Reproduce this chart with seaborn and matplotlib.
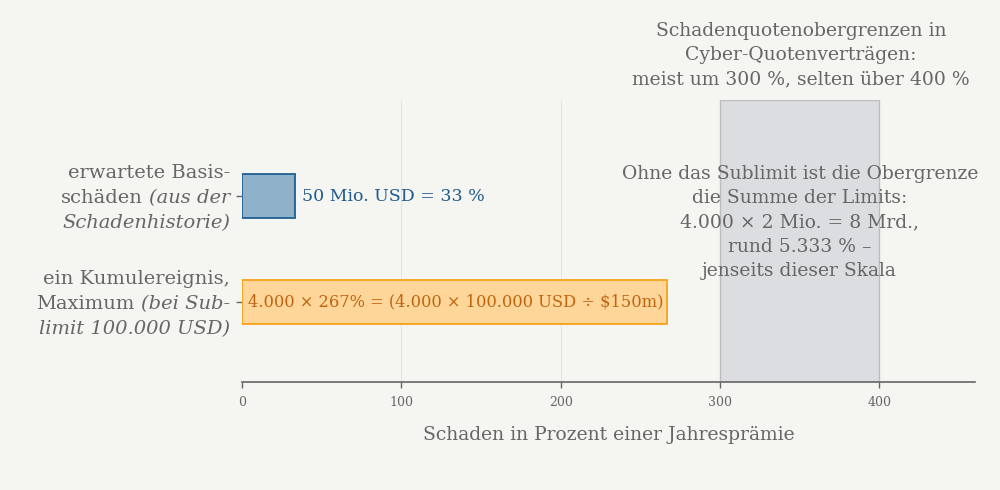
import matplotlib
matplotlib.use("Agg")
import matplotlib.pyplot as plt
import seaborn as sns
import pandas as pd

# ---- data ----
categories = ["Basisschäden", "Kumulereignis"]
values = [33, 267]
bar_labels = ["50 Mio. USD = 33 %", "4.000 × 267% = (4.000 × 100.000 USD ÷ $150m)"]
# left labels: list of lines, each line = (normal part, italic part)
label_lines = [
    [("erwartete Basis-", ""), ("schäden", "(aus der"), ("", "Schadenhistorie)")],
    [("ein Kumulereignis,", ""), ("Maximum", "(bei Sub-"), ("", "limit 100.000 USD)")],
]
band = (300, 400)
band_title = "Schadenquotenobergrenzen in\nCyber-Quotenverträgen:\nmeist um 300 %, selten über 400 %"
band_note = ("Ohne das Sublimit ist die Obergrenze\ndie Summe der Limits:\n"
             "4.000 × 2 Mio. = 8 Mrd.,\nrund 5.333 % –\njenseits dieser Skala")
xticks = [0, 100, 200, 300, 400]
xlabel = "Schaden in Prozent einer Jahresprämie"

fills = ["#8fb2c9", "#ffd699"]
edges = ["#1f5f94", "#f5a31a"]
label_colors = ["#1f5a8c", "#c0640f"]
grey = "#666666"
bg = "#f5f5f1"

sns.set_theme(style="white")
plt.rcParams["font.family"] = ["DejaVu Serif"]

df = pd.DataFrame({"cat": categories, "val": values})

fig = plt.figure(figsize=(10, 4.9), dpi=100, facecolor=bg)
ax = fig.add_axes([0.242, 1 - 382 / 490, 0.975 - 0.242, (382 - 100) / 490])
ax.set_facecolor(bg)

sns.barplot(data=df, x="val", y="cat", hue="cat", palette=fills, orient="h",
            width=0.415, saturation=1, legend=False, ax=ax, zorder=2)
bars = [p for c in ax.containers for p in c]
for p, ec in zip(bars, edges):
    p.set_edgecolor(ec)
    p.set_linewidth(1.3)

ax.axvspan(band[0], band[1], facecolor="#dcdde0", edgecolor="#bdbdbd", linewidth=1, zorder=0.5)
for g in [100, 200]:
    ax.axvline(g, color="#e4e4e2", linewidth=0.8, zorder=0.3)

ax.set_xlim(0, 460)
ax.set_ylim(1.755, -0.906)
ax.set_xticks(xticks)
ax.set_xticklabels([str(t) for t in xticks], fontsize=9, color=grey)
ax.set_yticks([0, 1])
ax.set_yticklabels(["", ""])
ax.tick_params(axis="x", length=4, width=1, color=grey, pad=6, bottom=True)
ax.tick_params(axis="y", length=4, width=1, color=grey, left=True)
for s in ["top", "right", "left"]:
    ax.spines[s].set_visible(False)
ax.spines["bottom"].set_color(grey)
ax.spines["bottom"].set_linewidth(1.2)
ax.set_xlabel(xlabel, fontsize=13.5, color=grey, labelpad=12)
ax.set_ylabel("")

# bar value labels
ax.annotate(bar_labels[0], xy=(values[0], 0), xytext=(5, 0), textcoords="offset points",
            va="center", ha="left", fontsize=12.5, color=label_colors[0])
ax.annotate(bar_labels[1], xy=(0, 1), xytext=(4, 0), textcoords="offset points",
            va="center", ha="left", fontsize=11.7, color=label_colors[1], zorder=3)

# left category labels with mixed italic
fs = 14
step = 0.236
xlab = (230 - 242) / 733
ytr = ax.get_yaxis_transform()
for ci, lines in enumerate(label_lines):
    n = len(lines)
    for li, (normal, ital) in enumerate(lines):
        y = ci + (li - (n - 1) / 2) * step
        if ital:
            t = ax.text(xlab, y, ital, transform=ytr, ha="right", va="center_baseline",
                        fontsize=fs, color=grey, style="italic")
            if normal:
                ax.annotate(normal, xy=(0, y), xycoords=(t, "data"),
                            xytext=(-4.5, 0), textcoords="offset points",
                            ha="right", va="center_baseline", fontsize=fs, color=grey,
                            annotation_clip=False)
        else:
            ax.text(xlab, y, normal, transform=ytr, ha="right", va="center_baseline",
                    fontsize=fs, color=grey)

# band annotations
fig.text(0.801, 1 - 55 / 490, band_title, ha="center", va="center", fontsize=13.5,
         color=grey, linespacing=1.42)
ax.text(350, 0.25, band_note, ha="center", va="center", fontsize=13.5, color=grey,
        linespacing=1.45, zorder=3)

fig.savefig("out.png", dpi=100, facecolor=bg)
